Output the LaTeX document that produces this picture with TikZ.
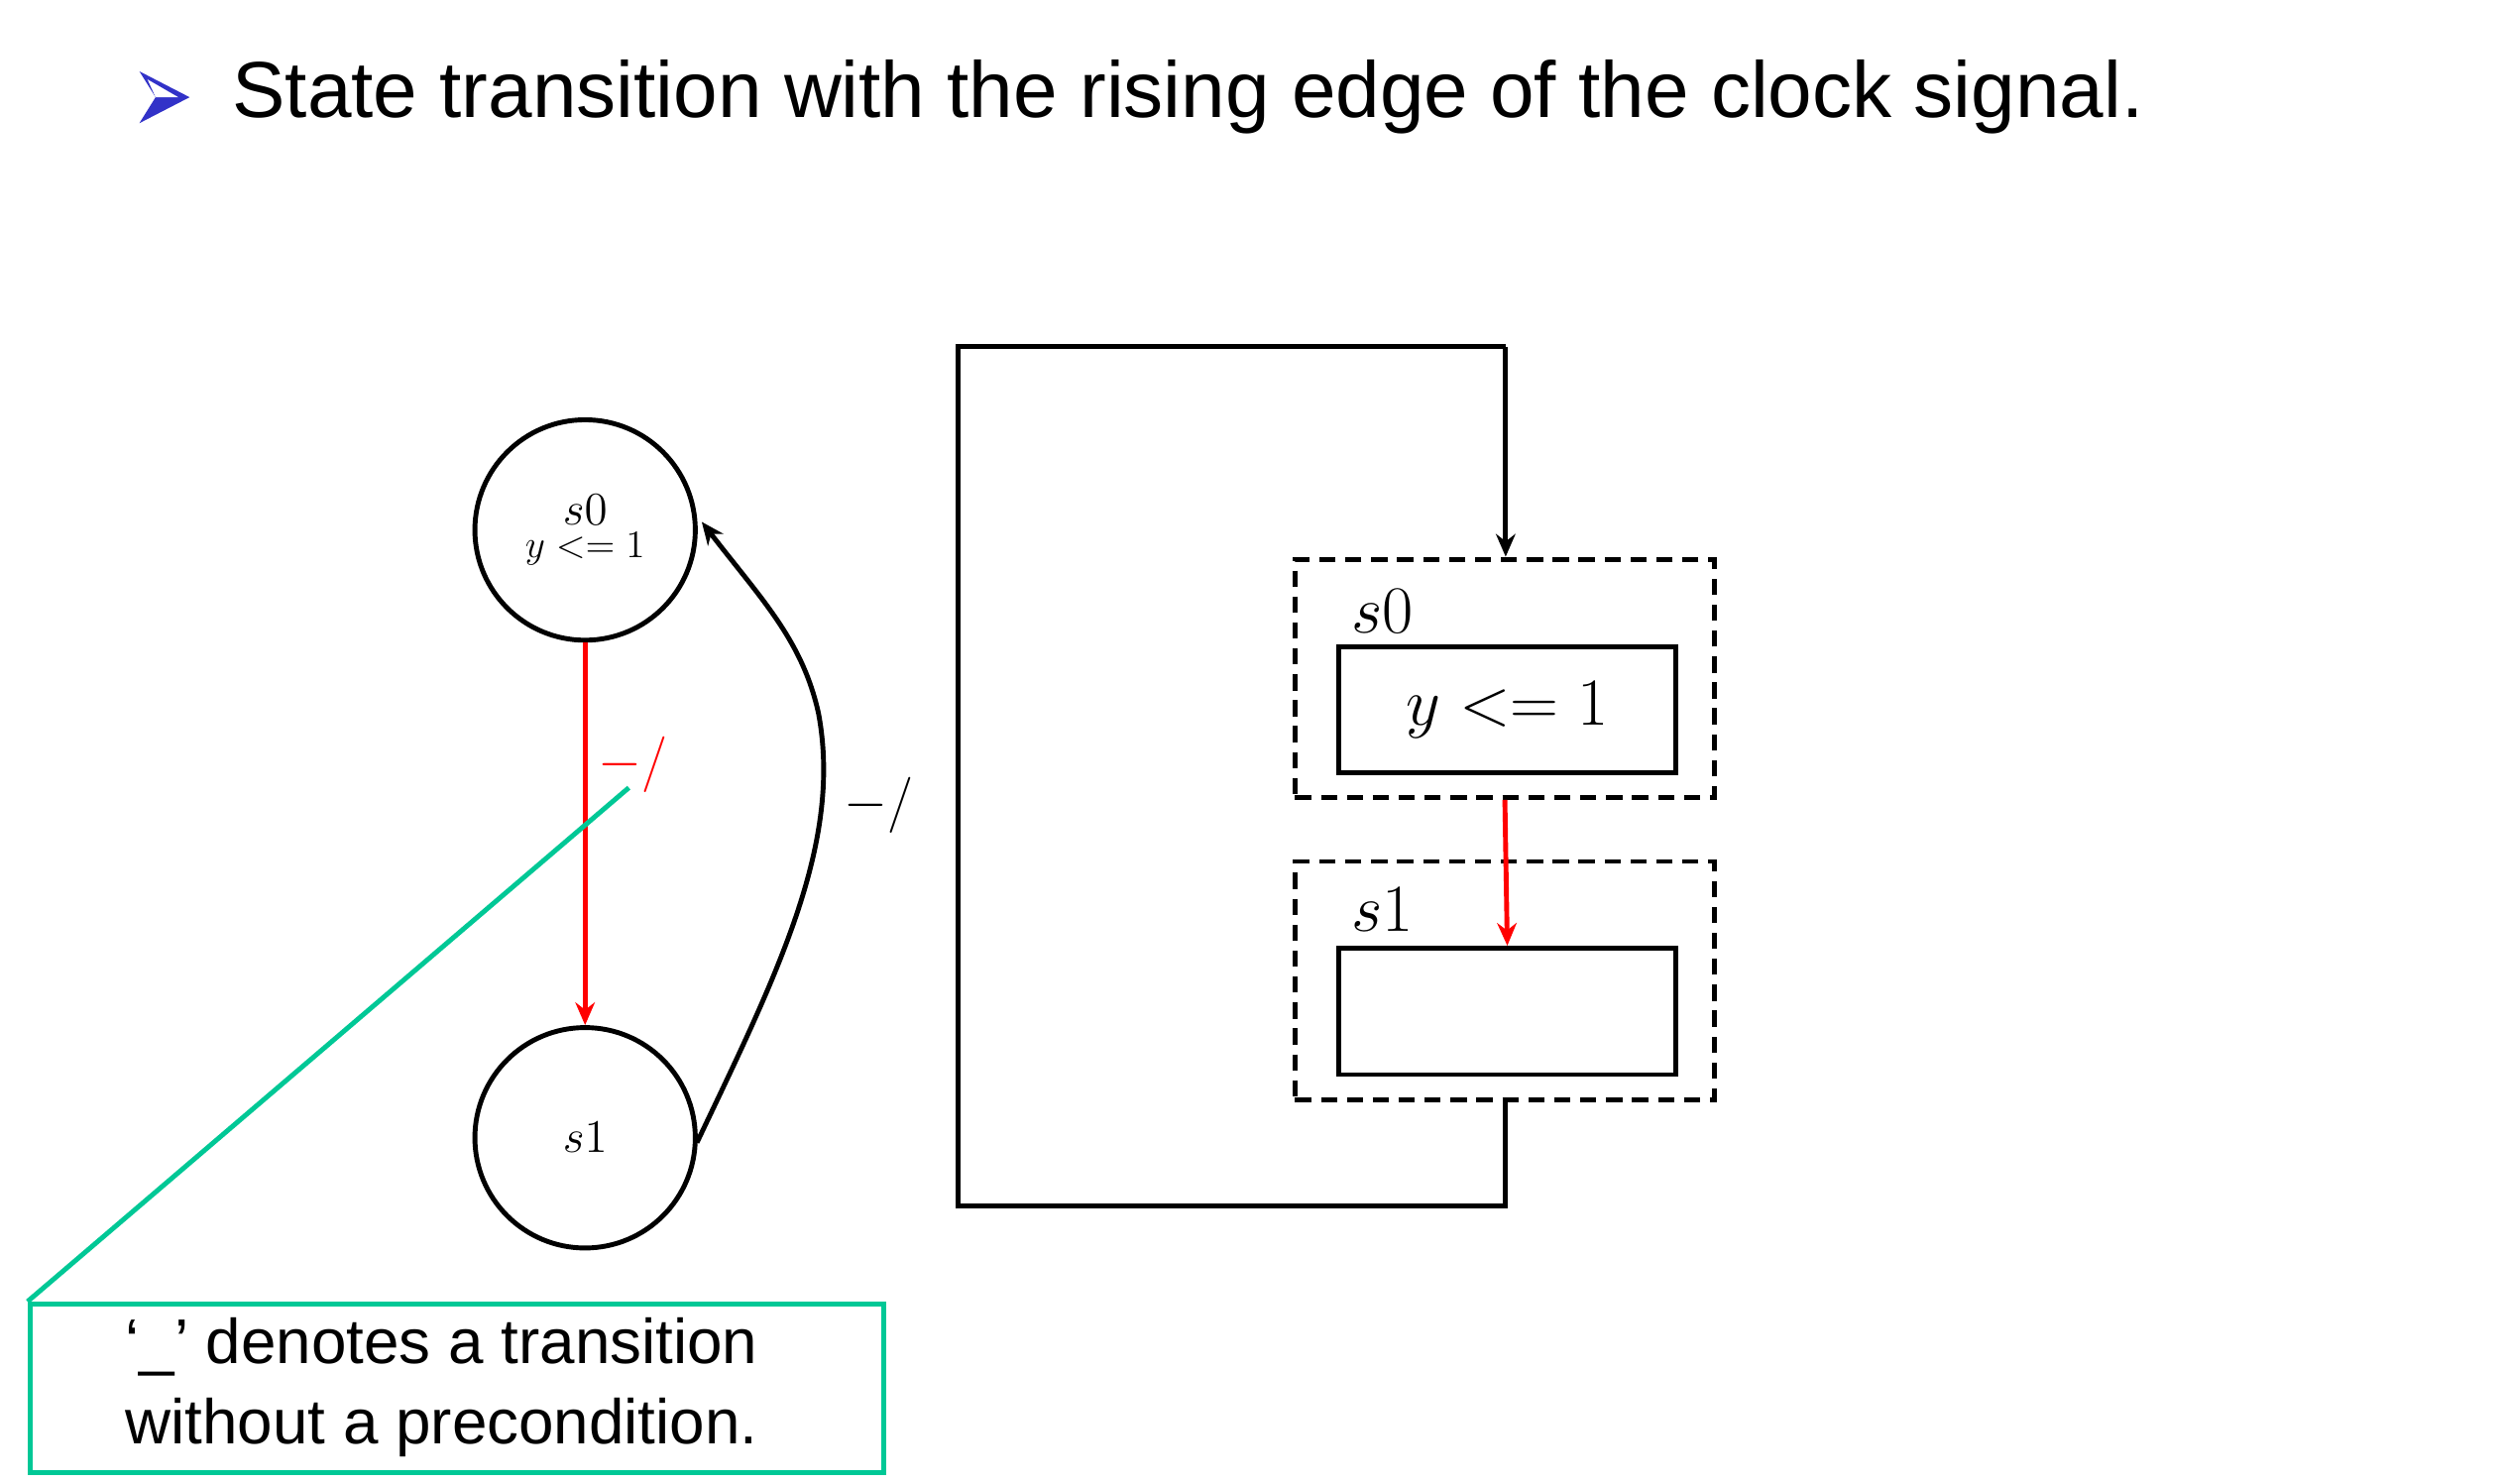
\documentclass[tikz,border=0pt]{standalone}
\usepackage{fontspec}
\setmainfont{Liberation Sans}
\usetikzlibrary{arrows.meta}
\definecolor{grn}{RGB}{0,200,150}
\definecolor{tri}{RGB}{50,50,200}
\begin{document}
\begin{tikzpicture}[x=0.5pt,y=-0.5pt,
  ln/.style={line width=1.5pt},
  st/.style={circle,draw,line width=1.5pt,minimum size=68pt,inner sep=0pt,align=center},
  dbox/.style={draw,dashed,line width=1.5pt,dash pattern=on 5pt off 3pt,minimum width=129.5pt,minimum height=73.5pt,inner sep=0pt},
  ibox/.style={draw,line width=1.5pt,minimum width=104pt,minimum height=39pt,inner sep=0pt},
  arr/.style={ln,-{Stealth[length=7pt,width=6pt]}}]
\useasboundingbox (0,0) rectangle (1545,915.6);
\fill[tri] (86,44) -- (117,60) -- (86,76) -- (96,60) -- cycle;
\fill[white] (91,49) -- (110,60) -- (96,60) -- cycle;
\node[anchor=west,font=\fontsize{24.5}{28}\selectfont,inner sep=0pt] (title) at (143,60) {State transition with the rising edge of the clock signal.};
\node[st] (c0) at (361,327) {\fontsize{15}{16}\selectfont $s0$\\[-2pt] \fontsize{12.5}{13}\selectfont $y<=1$};
\node[st] (c1) at (361,702) {\fontsize{15}{16}\selectfont $s1$};
\draw[arr,red] (c0) -- (c1) node[pos=0.32,right,font=\fontsize{16}{18}\selectfont] (l1) {$-/$};
\coordinate (cs) at (430,705);
\coordinate (ce) at (433,322);
\draw[arr] (cs) .. controls (480,600) and (520,520) .. (505,440) .. controls (495,395) and (470,370) .. (ce);
\node[font=\fontsize{16}{18}\selectfont] (l2) at (542,497) {$-/$};
\node[draw=grn,line width=1.5pt,minimum width=263.5pt,minimum height=52pt,anchor=north west,inner sep=0pt] (note) at (17,803) {};
\node[anchor=west,align=left,font=\fontsize{19.5}{25}\selectfont,inner sep=0pt] (nt) at (77,856) {‘\_' denotes a transition\\without a precondition.};
\coordinate (gp) at (388,486);
\draw[grn,line width=1.5pt] (gp) -- (note.north west);
\node[dbox] (d0) at (928.5,418.5) {};
\node[dbox] (d1) at (928.5,605) {};
\node[ibox] (i0) at (930,438) {\fontsize{20}{22}\selectfont $y<=1$};
\node[ibox] (i1) at (930,624) {};
\node[font=\fontsize{20}{22}\selectfont] (s0l) at (853,377) {$s0$};
\node[font=\fontsize{20}{22}\selectfont] (s1l) at (853,561) {$s1$};
\draw[arr,red] (d0.south) -- (i1.north);
\coordinate (p1) at (929,744);
\coordinate (p2) at (591,744);
\coordinate (p3) at (591,214);
\coordinate (p4) at (929,214);
\draw[ln] (d1.south -| p1) -- (p1) -- (p2) -- (p3) -- (p4);
\draw[arr] (p4) -- (d0.north -| p4);
\end{tikzpicture}
\end{document}
